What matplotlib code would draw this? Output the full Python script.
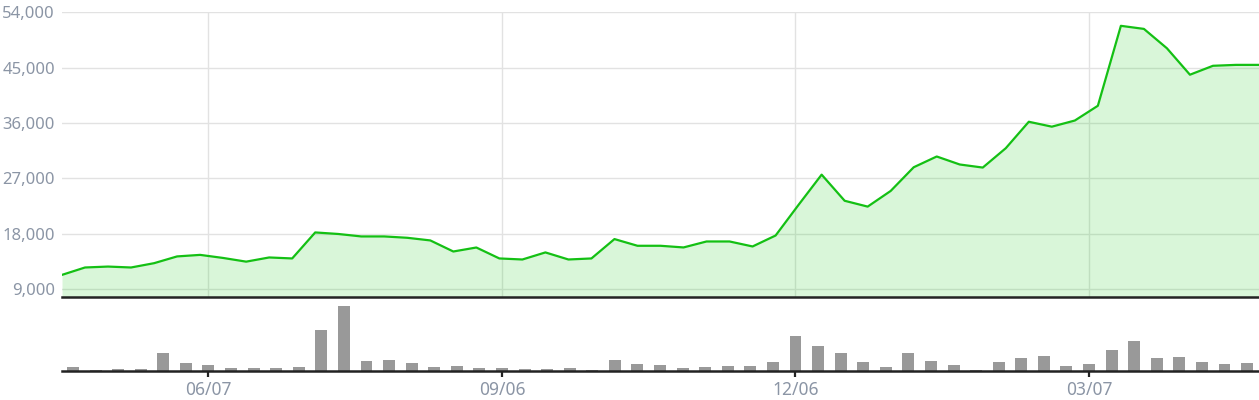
import numpy as np
import pandas as pd
import matplotlib
matplotlib.use("Agg")
from matplotlib import pyplot as plt
import matplotlib.dates as mdates
from matplotlib.ticker import FuncFormatter

plt.rcParams['font.family'] = ['Noto Sans', 'DejaVu Sans']

# weekly price (line) and volume (bars)
price = [11300, 12500, 12650, 12500, 13200, 14300, 14550, 14050, 13450, 14130,
         13970, 18200, 17950, 17550, 17550, 17330, 16900, 15100, 15750, 13970,
         13800, 14950, 13800, 13970, 17120, 16030, 16030, 15760, 16730, 16730,
         15920, 17700, 22700, 27600, 23350, 22400, 24950, 28800, 30550, 29250,
         28750, 31900, 36200, 35400, 36400, 38800, 51800, 51300, 48150, 43850,
         45300, 45450, 45450]
volume = [4, 1, 2, 2, 18, 8, 6, 3, 3, 3,
          4, 41, 65, 10, 11, 8, 4, 5, 3, 3,
          2, 2, 3, 1, 11, 7, 6, 3, 4, 5,
          5, 9, 35, 25, 18, 9, 4, 18, 10, 6,
          1, 9, 13, 15, 5, 7, 21, 30, 13, 14,
          9, 7, 8]
dates = pd.date_range('2022-04-26', periods=len(volume), freq='7D')
yticks = [9000, 18000, 27000, 36000, 45000, 54000]

W, H = 1259, 400
fig = plt.figure(figsize=(W / 100, H / 100), dpi=100)
left = 62 / W
ax1 = fig.add_axes([left, 1 - 296.7 / H, 1 - left, (296.7 - 12.3) / H])
ax2 = fig.add_axes([left, 1 - 371.3 / H, 1 - left, (371.3 - 296.7) / H], sharex=ax1)

grey = '#8b95a5'
gridc = '#e2e2e2'

# price panel
ax1.set_ylim(7750, 54000)
ax1.set_yticks(yticks)
ax1.yaxis.set_major_formatter(FuncFormatter(lambda v, p: f'{int(v):,}'))
ax1.tick_params(axis='y', length=0, pad=5, labelcolor=grey, labelsize=12)
ax1.tick_params(axis='x', length=0, labelbottom=False)
ax1.grid(True, color=gridc, lw=1)
ax1.set_axisbelow(True)
for s in ax1.spines.values():
    s.set_visible(False)

axl = ax1.twiny()
xi = np.arange(len(price))
axl.set_xlim(xi[0], xi[-1])
axl.fill_between(xi, price, 7750, color='#00c800', alpha=0.15, lw=0)
axl.plot(xi, price, color='#14c014', lw=1.6)
axl.axis('off')

# volume panel
ax2.bar(dates, volume, width=3.7, color='#999999')
ax2.set_ylim(0, max(volume) * 74.6 / 65)
ax2.set_xlim(dates[0] - pd.Timedelta(days=3.4), dates[-1] + pd.Timedelta(days=3.7))
ax2.set_xticks(dates[6::13])
ax2.xaxis.set_major_formatter(mdates.DateFormatter('%m/%d'))
ax2.tick_params(axis='x', length=4, width=1.6, color='#222222', pad=3,
                labelcolor=grey, labelsize=12.5)
ax2.set_yticks([])
ax2.patch.set_alpha(0)
ax2.set_zorder(3)
for k in ['left', 'right']:
    ax2.spines[k].set_visible(False)
for k in ['top', 'bottom']:
    ax2.spines[k].set_color('#222222')
    ax2.spines[k].set_linewidth(1.8)

fig.savefig('out.png', dpi=100)
